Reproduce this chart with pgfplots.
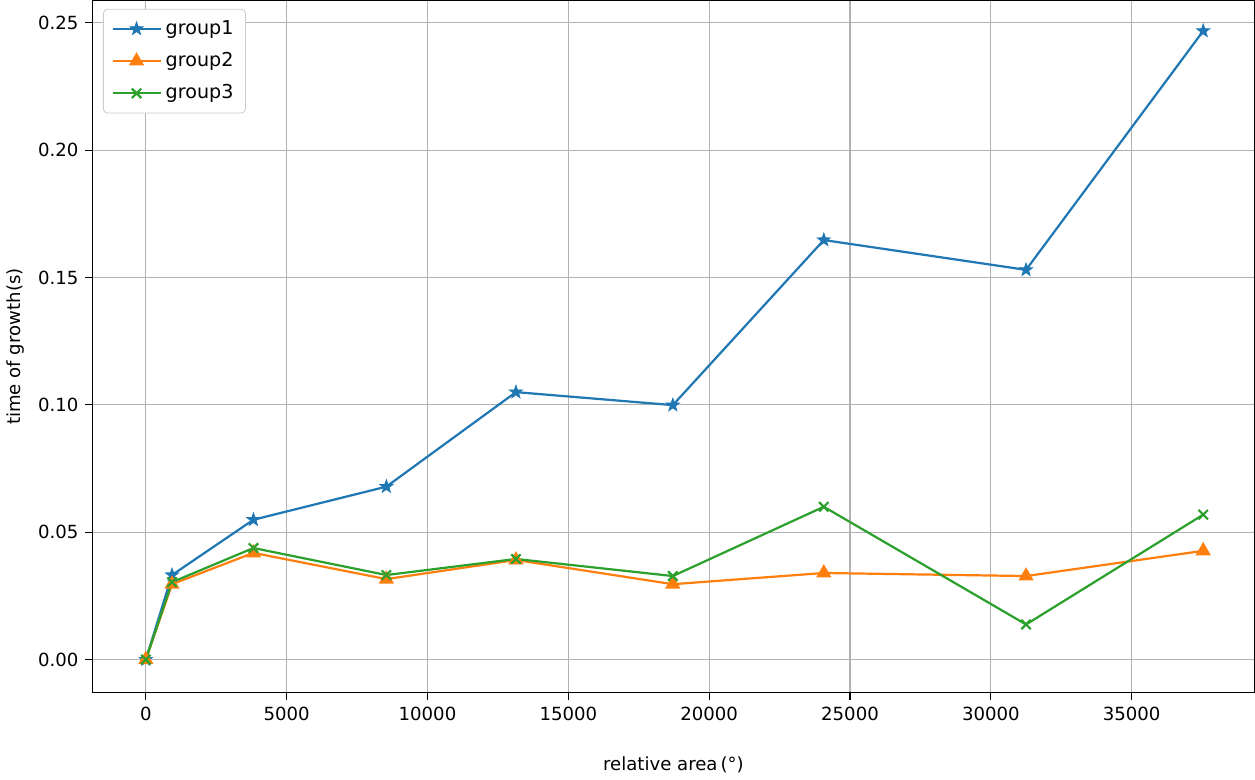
\documentclass[border=0pt]{standalone}
\usepackage{fontspec}
\setmainfont{DejaVu Sans}
\usepackage{pgfplots}
\pgfplotsset{compat=1.18}
\definecolor{c0}{HTML}{1F77B4}
\definecolor{c1}{HTML}{FF7F0E}
\definecolor{c2}{HTML}{2CA02C}
% filled five-point star, like matplotlib's '*'
\pgfdeclareplotmark{fstar}{%
  \pgfpathmoveto{\pgfqpointpolar{90}{\pgfplotmarksize}}%
  \pgfpathlineto{\pgfqpointpolar{126}{0.4\pgfplotmarksize}}%
  \pgfpathlineto{\pgfqpointpolar{162}{\pgfplotmarksize}}%
  \pgfpathlineto{\pgfqpointpolar{198}{0.4\pgfplotmarksize}}%
  \pgfpathlineto{\pgfqpointpolar{234}{\pgfplotmarksize}}%
  \pgfpathlineto{\pgfqpointpolar{270}{0.4\pgfplotmarksize}}%
  \pgfpathlineto{\pgfqpointpolar{306}{\pgfplotmarksize}}%
  \pgfpathlineto{\pgfqpointpolar{342}{0.4\pgfplotmarksize}}%
  \pgfpathlineto{\pgfqpointpolar{18}{\pgfplotmarksize}}%
  \pgfpathlineto{\pgfqpointpolar{54}{0.4\pgfplotmarksize}}%
  \pgfpathclose
  \pgfusepathqfillstroke}
\begin{document}
\begin{tikzpicture}
\begin{axis}[
    scale only axis,
    width=577.5pt, height=344pt,
    xmin=-1893, xmax=39357,
    ymin=-0.0130, ymax=0.2587,
    xtick={0,5000,10000,15000,20000,25000,30000,35000},
    ytick={0,0.05,0.10,0.15,0.20,0.25},
    yticklabel style={/pgf/number format/.cd,fixed,fixed zerofill,precision=2},
    xticklabel style={/pgf/number format/.cd,fixed,1000 sep={}},
    /pgf/number format/assume math mode=true,
    scaled ticks=false,
    tick align=outside,
    tick pos=left,
    major tick length=3.5pt,
    grid=major,
    major grid style={color=black!30, line width=0.6pt},
    axis line style={line width=0.6pt},
    tick style={black, line width=0.6pt},
    ticklabel style={font=\fontsize{9}{11}\selectfont},
    label style={font=\fontsize{9}{11}\selectfont},
    xlabel={relative area\,(°)},
    ylabel={time of growth(s)},
    xlabel style={yshift=-11pt},
    legend style={at={(0.009,0.988)}, anchor=north west,
        font=\fontsize{9.5}{12}\selectfont, draw=black!20,
        rounded corners=2pt, row sep=3.5pt, inner xsep=4pt, inner ysep=3.5pt},
    legend cell align=left,
    legend image code/.code={%
        \draw[mark repeat=2,mark phase=2] plot coordinates {(0cm,0cm) (0.42cm,0cm) (0.84cm,0cm)};},
    every axis plot/.append style={line width=1.1pt},
]
\addplot[color=c0, mark=fstar, mark size=3.4pt, mark options={solid, fill=c0, line width=0.4pt}] coordinates {
    (0,0) (930,0.0332) (3820,0.0549) (8540,0.0679) (13140,0.1050)
    (18710,0.0999) (24070,0.1647) (31250,0.1530) (37540,0.2468)
};
\addlegendentry{group1}
\addplot[color=c1, mark=triangle*, mark size=3.3pt, mark options={solid, fill=c1}] coordinates {
    (0,0) (930,0.0296) (3820,0.0419) (8540,0.0316) (13140,0.0391)
    (18710,0.0296) (24070,0.0340) (31250,0.0328) (37540,0.0427)
};
\addlegendentry{group2}
\addplot[color=c2, mark=x, mark size=3.3pt, mark options={solid}] coordinates {
    (0,0) (930,0.0304) (3820,0.0438) (8540,0.0332) (13140,0.0395)
    (18710,0.0328) (24070,0.0600) (31250,0.0138) (37540,0.0569)
};
\addlegendentry{group3}
\end{axis}
\end{tikzpicture}
\end{document}
